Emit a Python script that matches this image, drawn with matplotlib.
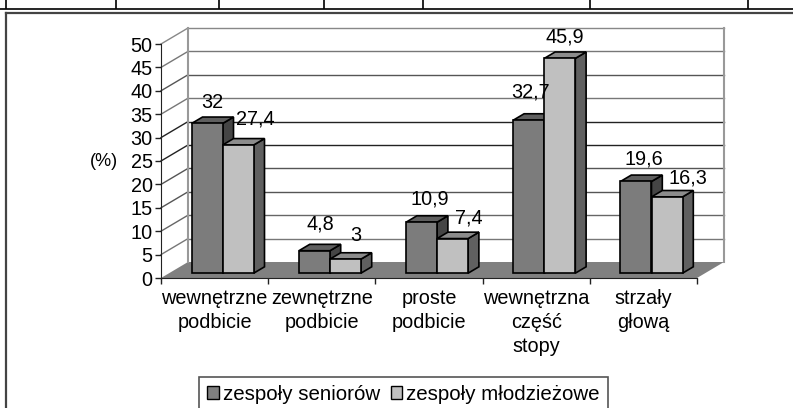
import matplotlib
matplotlib.use('Agg')
import matplotlib.pyplot as plt
from matplotlib.patches import Polygon, Rectangle

categories = ['wewnętrzne\npodbicie', 'zewnętrzne\npodbicie', 'proste\npodbicie', 'wewnętrzna\nczęść\nstopy', 'strzały\ngłową']
seniors = [32, 4.8, 10.9, 32.7, 19.6]
juniors = [27.4, 3, 7.4, 45.9, 16.3]
series_names = ['zespoły seniorów', 'zespoły młodzieżowe']
yticks = [0, 5, 10, 15, 20, 25, 30, 35, 40, 45, 50]
# colours of the wall lines, scan makes them uneven
grid_colors = ['#777777', '#777777', '#666666', '#555555', '#555555', '#222222', '#222222', '#777777', '#555555', '#777777', '#888888']
# label nudges in px, the original labels sit a bit irregular
senior_nudge = [(0, -5), (1, 1), (4, -3), (-3, 2), (3, -4)]
junior_nudge = [(3, 8), (-4, 5), (2, 2), (-9, 3), (7, 1)]

W, H = 793, 408
plt.rcParams['font.family'] = ['Liberation Sans', 'DejaVu Sans']
plt.rcParams['font.size'] = 14.3

fig = plt.figure(figsize=(W/100, H/100), dpi=100)

# page lines in pixel coordinates
page = fig.add_axes([0, 0, 1, 1])
page.set_xlim(0, W)
page.set_ylim(H, 0)
page.axis('off')
page.plot([0, W], [8.5, 8.5], color='black', lw=1.2)
for x in [6, 116, 219, 324, 423, 590, 748]:
    page.plot([x, x], [0, 8], color='black', lw=1.2)
page.plot([6, W], [13, 13], color='#444444', lw=1.6)
page.plot([6, 6], [13, H], color='#444444', lw=1.6)

# front plane of the chart
left, right, top, bottom = 161, 697, 44, 278
ax = fig.add_axes([left/W, 1-bottom/H, (right-left)/W, (bottom-top)/H])
ax.set_xlim(0, 5)
ax.set_ylim(0, 50)
ax.patch.set_alpha(0)
for s in ['top', 'right']:
    ax.spines[s].set_visible(False)
ax.spines['left'].set_color('#222222')
ax.spines['bottom'].set_color('#222222')

dx = 27/107.2   # depth of the box in category units
dy = 16/4.68    # same in value units

ax.add_patch(Polygon([(0, 0), (5, 0), (5+dx, dy), (dx, dy)], fc='#808080', ec='none', clip_on=False, zorder=1))
ax.add_patch(Rectangle((dx, dy), 5, 50, fc='white', ec='none', clip_on=False, zorder=0))
for v, c in zip(yticks, grid_colors):
    if v > 0:
        ax.plot([dx, 5+dx], [v+dy, v+dy], color=c, lw=1, clip_on=False, zorder=1)
        ax.plot([0, dx], [v, v+dy], color=c, lw=1, clip_on=False, zorder=1)
ax.plot([dx, dx], [dy, 50+dy], color='#999999', lw=1.5, clip_on=False, zorder=1)
ax.plot([5+dx, 5+dx], [dy, 50+dy], color='#999999', lw=1.5, clip_on=False, zorder=1)

bar_w = 31/107.2
gap = (1-2*bar_w)/2
z0 = 0.30   # where the bars start in the depth
z1 = 0.70

def bar3d(x, val, color, side, cap):
    x0 = x + z0*dx
    base = z0*dy
    d_x = (z1-z0)*dx
    d_y = (z1-z0)*dy
    top_y = base + val
    ax.add_patch(Polygon([(x0+bar_w, base), (x0+bar_w+d_x, base+d_y), (x0+bar_w+d_x, top_y+d_y), (x0+bar_w, top_y)],
                         fc=side, ec='black', lw=1.2, clip_on=False, zorder=3))
    ax.add_patch(Polygon([(x0, top_y), (x0+d_x, top_y+d_y), (x0+bar_w+d_x, top_y+d_y), (x0+bar_w, top_y)],
                         fc=cap, ec='black', lw=1.2, clip_on=False, zorder=3))
    ax.add_patch(Rectangle((x0, base), bar_w, val, fc=color, ec='black', lw=1.2, clip_on=False, zorder=3))

def value_label(x, y, val, nudge):
    # offset is in points, dpi 100
    ax.annotate(str(val).replace('.', ','), (x, y), xytext=(nudge[0]*0.72, nudge[1]*0.72), textcoords='offset points',
                ha='center', va='bottom', zorder=5, annotation_clip=False)

for i in range(len(categories)):
    bar3d(i+gap, seniors[i], '#7c7c7c', '#454545', '#5f5f5f')
    bar3d(i+gap+bar_w, juniors[i], '#c0c0c0', '#606060', '#8c8c8c')
    value_label(i+gap+z0*dx+bar_w*0.65, seniors[i]+z1*dy+2.2, seniors[i], senior_nudge[i])
    value_label(i+gap+bar_w+z0*dx+bar_w*0.95, juniors[i]+z1*dy+0.5, juniors[i], junior_nudge[i])

ax.set_yticks(yticks)
ax.set_xticks(range(6))
ax.set_xticklabels([])
ax.tick_params(axis='both', length=4, width=1, color='#222222', labelsize=14.3, pad=2)
for i, c in enumerate(categories):
    ax.text(i+0.5, -2.3, c, ha='center', va='top', linespacing=1.33)
ax.set_ylabel('(%)', rotation=0, fontsize=13, ha='center', va='center')
ax.yaxis.set_label_coords(-0.106, 0.496)

leg = ax.legend(handles=[Rectangle((0, 0), 1, 1, fc='#808080', ec='black'), Rectangle((0, 0), 1, 1, fc='#c0c0c0', ec='black')],
                labels=series_names, loc='lower left', bbox_to_anchor=((199-left)/(right-left), (bottom-412)/(bottom-top)),
                ncol=2, frameon=True, fancybox=False, edgecolor='#555555', framealpha=1,
                handlelength=0.55, handleheight=0.6, handletextpad=0.2, columnspacing=0.55, borderpad=0.4, borderaxespad=0, fontsize=14.8)
leg.get_frame().set_linewidth(1.2)

fig.savefig('out.png', dpi=100)
